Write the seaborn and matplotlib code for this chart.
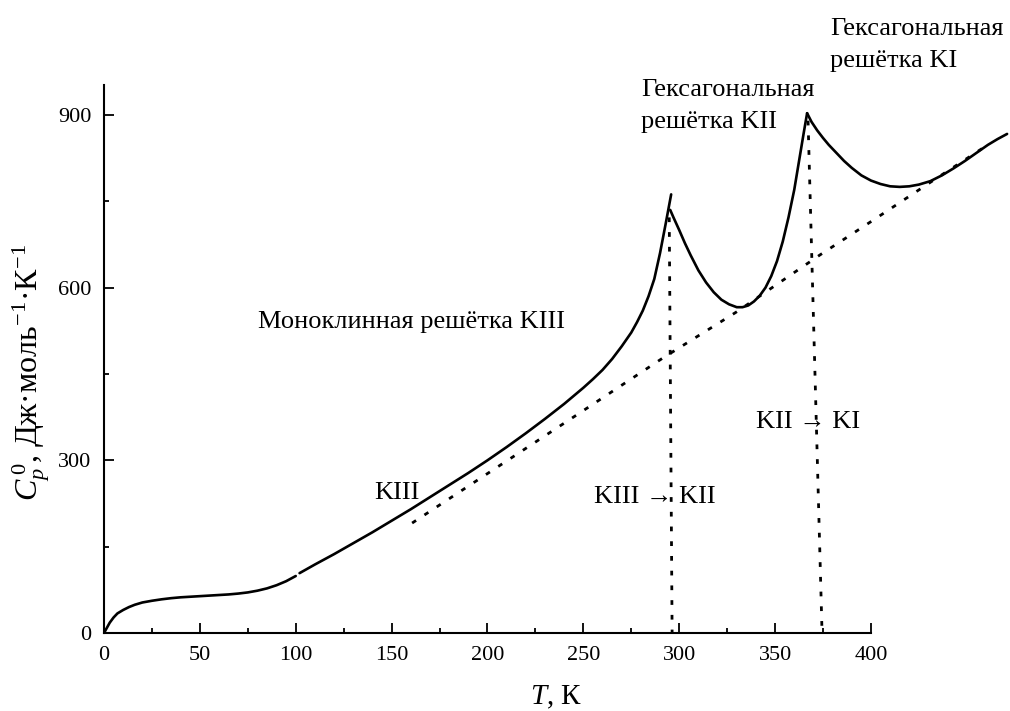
import numpy as np
import pandas as pd
import matplotlib
matplotlib.use("Agg")
import matplotlib.pyplot as plt
from matplotlib.ticker import FixedLocator
import seaborn as sns

# ---- data ----
seg_a_T = [0, 1, 2, 3, 5, 7, 10, 13, 16, 20, 25, 30, 35, 40, 45, 50, 55, 60, 65,
           70, 75, 80, 85, 90, 95, 100]
seg_a_Cp = [0, 6, 12, 18, 27, 34, 40, 45, 49, 53, 56, 58.5, 60.5, 62, 63, 64, 65,
            66, 67, 68.5, 70.5, 73.5, 77.5, 83, 90, 99]

seg_b_T = [102, 110, 120, 130, 140, 150, 160, 170, 180, 190, 200, 210, 220, 230,
           240, 250, 255, 260, 265, 270, 275, 278, 281, 284, 287, 290, 293, 295.8]
seg_b_Cp = [104, 119, 137, 156, 175, 195, 215, 236, 257, 278, 300, 323, 347, 372,
            398, 426, 441, 457, 476, 498, 522, 540, 560, 585, 615, 660, 712, 762]

seg_c_T = [295.3, 297, 300, 303, 306, 310, 314, 318, 322, 326, 330, 333, 336, 339,
           342, 345, 348, 351, 354, 357, 360, 363, 365, 366.7]
seg_c_Cp = [735, 722, 700, 677, 656, 630, 609, 592, 579, 571, 566, 566, 569, 576,
            586, 600, 620, 646, 680, 722, 770, 830, 870, 903]

seg_d_T = [366.7, 369, 372, 375, 378, 382, 386, 390, 395, 400, 405, 410, 415, 420,
           425, 431, 437, 443, 449, 455, 461, 466, 471]
seg_d_Cp = [903, 888, 873, 860, 848, 834, 820, 808, 795, 786, 780, 776, 775, 776,
            779, 785, 795, 807, 820, 834, 848, 858, 867]

base_T = [160.7, 248, 291.6, 330, 373.5, 402, 431, 460]
base_Cp = [191, 382, 478, 558, 657, 719, 783, 846]

vert1_T = [294.8, 296.3]
vert1_Cp = [722, 0]
vert2_T = [367.2, 374.5]
vert2_Cp = [890, 0]

x_ticks = [0, 50, 100, 150, 200, 250, 300, 350, 400]
x_minor = [25, 75, 125, 175, 225, 275, 325, 375]
y_ticks = [0, 300, 600, 900]
y_minor = [150, 450, 750]

solid = pd.concat([
    pd.DataFrame({"T": seg_a_T, "Cp": seg_a_Cp, "seg": "a"}),
    pd.DataFrame({"T": seg_b_T, "Cp": seg_b_Cp, "seg": "b"}),
    pd.DataFrame({"T": seg_c_T, "Cp": seg_c_Cp, "seg": "c"}),
    pd.DataFrame({"T": seg_d_T, "Cp": seg_d_Cp, "seg": "d"}),
], ignore_index=True)

dotted = pd.concat([
    pd.DataFrame({"T": base_T, "Cp": base_Cp, "seg": "base"}),
    pd.DataFrame({"T": vert1_T, "Cp": vert1_Cp, "seg": "v1"}),
    pd.DataFrame({"T": vert2_T, "Cp": vert2_Cp, "seg": "v2"}),
], ignore_index=True)

sns.set_theme(style="ticks")
plt.rcParams["font.family"] = ["Liberation Serif", "DejaVu Serif"]
plt.rcParams["mathtext.fontset"] = "custom"
plt.rcParams["mathtext.rm"] = "Liberation Serif"
plt.rcParams["mathtext.it"] = "Liberation Serif:italic"
plt.rcParams["mathtext.bf"] = "Liberation Serif:bold"
plt.rcParams["text.color"] = "black"
plt.rcParams["axes.labelcolor"] = "black"

fig = plt.figure(figsize=(10.1, 7.11), dpi=100)
ax = fig.add_axes([104 / 1010, 78 / 711, 905 / 1010, 548 / 711])

sns.lineplot(data=solid, x="T", y="Cp", units="seg", estimator=None, sort=False,
             color="black", linewidth=1.9, ax=ax)
sns.lineplot(data=dotted, x="T", y="Cp", units="seg", estimator=None, sort=False,
             color="black", linewidth=2.0, ax=ax)
for ln in ax.lines[-3:]:
    ln.set_linestyle((0, (1.7, 3.6)))
    ln.set_dash_capstyle("butt")
for ln in ax.lines:
    ln.set_solid_joinstyle("round")

ax.set_xlim(0, 472)
ax.set_ylim(0, 952)
ax.spines["bottom"].set_bounds(0, 400)
ax.spines["top"].set_visible(False)
ax.spines["right"].set_visible(False)
for s in ("left", "bottom"):
    ax.spines[s].set_linewidth(1.5)
    ax.spines[s].set_color("black")

ax.set_xticks(x_ticks)
ax.set_yticks(y_ticks)
ax.xaxis.set_minor_locator(FixedLocator(x_minor))
ax.yaxis.set_minor_locator(FixedLocator(y_minor))
ax.tick_params(axis="both", which="major", direction="in", length=7, width=1.3,
               labelsize=16, color="black", labelcolor="black", pad=9)
ax.tick_params(axis="both", which="minor", direction="in", length=3.5, width=1.3,
               color="black")

ax.set_xlabel(r"$T$, К", fontsize=21, color="black", labelpad=14)
ax.set_ylabel(r"$C_p^{\,0}$, Дж·моль$^{-1}$·К$^{-1}$", fontsize=23, color="black")
ax.yaxis.set_label_coords(-0.058, 0.475)

fs = 19
ax.text(80.3, 540, "Моноклинная решётка KIII", fontsize=fs, ha="left", va="center")
ax.text(152.8, 243, "KIII", fontsize=fs, ha="center", va="center")
ax.text(287.4, 236, "KIII → KII", fontsize=fs, ha="center", va="center")
ax.text(367, 367, "KII → KI", fontsize=fs, ha="center", va="center")
ax.text(280, 915, "Гексагональная\nрешётка KII", fontsize=fs, ha="left", va="center",
        linespacing=1.6)
ax.text(378.7, 1021, "Гексагональная\nрешётка KI", fontsize=fs, ha="left", va="center",
        linespacing=1.6)

fig.savefig("out.png", dpi=100)
